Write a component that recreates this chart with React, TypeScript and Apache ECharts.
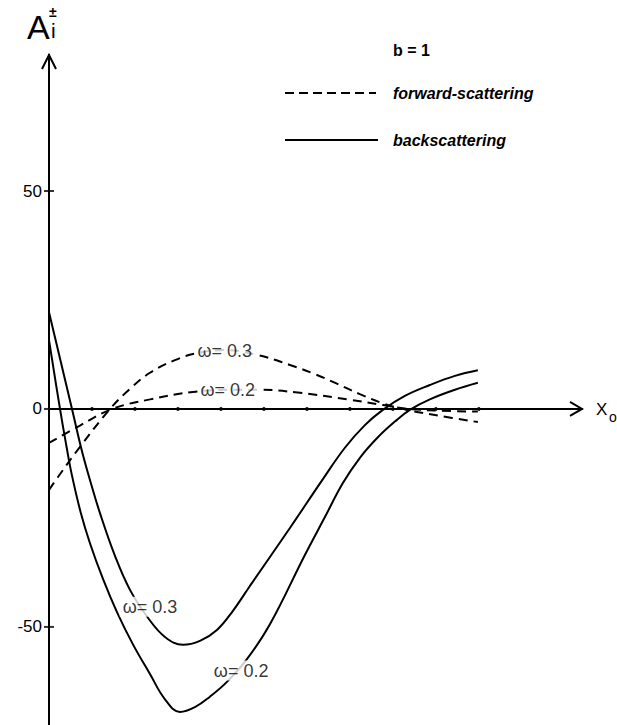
import React, { useEffect, useRef } from "react";
import * as echarts from "echarts";

// x positions of the small axis tick marks (no labels on the x axis)
const xTicks = [1, 2, 3, 4, 5, 6, 7, 8, 9, 10];
const yTicks = [-50, 0, 50];

// forward-scattering (dashed)
const fwd03X = [0, 0.209, 0.721, 1.419, 1.884, 2.349, 2.93, 3.442, 4.093, 4.837, 5.605, 6.186, 6.698, 7.233, 7.767, 8.279, 9.093, 9.977];
const fwd03Y = [-18.6, -15.6, -8.7, 0, 4.6, 8.3, 11.2, 12.8, 13.5, 12.4, 10.1, 8.0, 5.8, 3.4, 1.3, -0.1, -1.6, -3.0];
const fwd02X = [0, 0.72, 1.47, 2.35, 3.35, 4.2, 4.9, 5.84, 7.0, 7.77, 8.28, 9.1, 9.977];
const fwd02Y = [-7.8, -3.8, 0, 2.2, 3.9, 4.4, 4.4, 3.7, 2.1, 0.9, 0.1, -0.4, -0.6];

// backscattering (solid)
const back03X = [0, 0.267, 0.535, 0.76, 0.953, 1.186, 1.535, 1.884, 2.302, 2.698, 3.116, 3.512, 3.907, 4.279, 4.674, 5.605, 6.372, 6.884, 7.349, 7.767, 8.279, 8.86, 9.442, 9.977];
const back03Y = [22.2, 11.1, 0, -9.4, -16.3, -23.9, -33.7, -41.5, -47.9, -52.3, -54.1, -53.2, -50.7, -46.3, -40.6, -27.3, -16.1, -8.9, -3.7, -0.2, 3.0, 5.5, 7.6, 8.9];
const back02X = [0, 0.256, 0.412, 0.535, 0.744, 0.953, 1.256, 1.581, 1.953, 2.349, 2.698, 3.047, 3.395, 3.744, 4.14, 4.605, 5.14, 5.953, 6.419, 6.837, 7.233, 7.651, 8.047, 8.395, 8.86, 9.442, 9.977];
const back02Y = [15.8, 0, -8.9, -15.3, -24.0, -30.8, -39.0, -46.6, -54.0, -60.8, -66.6, -69.5, -68.4, -66.0, -62.6, -57.4, -49.4, -33.5, -24.8, -17.0, -11.2, -6.5, -2.9, -0.2, 2.2, 4.4, 6.0];

// curve labels, anchored in data coordinates
const curveLabels = [
  { name: "ω= 0.3", value: [4.09, 13.3] },
  { name: "ω= 0.2", value: [4.16, 4.4] },
  { name: "ω= 0.3", value: [2.35, -45.4] },
  { name: "ω= 0.2", value: [4.47, -60] },
];

const X_MAX = 12.4;
const Y_MIN = -72.5;
const Y_MAX = 81.2;

const INK = "#000";
const FONT = "'Liberation Sans', Arial, sans-serif";

const zip = (xs: number[], ys: number[]) => xs.map((x, i) => [x, ys[i]]);

export default function App() {
  const ref = useRef<HTMLDivElement>(null);

  useEffect(() => {
    if (!ref.current) return;
    const chart = echarts.init(ref.current, null, { renderer: "svg" });
    const solid = { color: INK, width: 2 };
    const dashed = { color: INK, width: 2, type: [9, 6] as any };
    const curve = (xs: number[], ys: number[], style: any) => ({
      type: "line",
      data: zip(xs, ys),
      smooth: 0.4,
      symbol: "none",
      lineStyle: style,
      z: 2,
    });

    chart.setOption({
      animation: false,
      grid: { left: 49, right: 35, top: 55, bottom: 0, containLabel: false },
      xAxis: {
        type: "value",
        min: 0,
        max: X_MAX,
        axisLine: { show: true, onZero: true, lineStyle: { color: INK, width: 2 } },
        axisTick: { show: false },
        axisLabel: { show: false },
        splitLine: { show: false },
      },
      yAxis: {
        type: "value",
        min: Y_MIN,
        max: Y_MAX,
        axisLine: { show: true, onZero: false, lineStyle: { color: INK, width: 2 } },
        axisTick: { show: false },
        axisLabel: {
          show: true,
          customValues: yTicks,
          margin: 7,
          color: INK,
          fontSize: 17,
          fontFamily: FONT,
        },
        splitLine: { show: false },
      },
      series: [
        curve(fwd03X, fwd03Y, dashed),
        curve(fwd02X, fwd02Y, dashed),
        curve(back03X, back03Y, solid),
        curve(back02X, back02Y, solid),
        {
          type: "scatter",
          data: xTicks.map((x) => [x, 0]),
          symbol: "rect",
          symbolSize: [2.5, 4],
          itemStyle: { color: INK },
          z: 3,
        },
        {
          type: "scatter",
          data: yTicks.map((y) => [0, y]),
          symbol: "rect",
          symbolSize: [10, 2],
          itemStyle: { color: INK },
          z: 3,
        },
        {
          type: "scatter",
          data: curveLabels,
          symbolSize: 1,
          itemStyle: { color: "rgba(0,0,0,0)" },
          z: 5,
          label: {
            show: true,
            position: "inside",
            formatter: "{b}",
            color: INK,
            fontSize: 18,
            fontFamily: FONT,
            backgroundColor: "#fff",
            padding: [1, 3],
          },
        },
      ],
    });

    const xEnd = chart.convertToPixel({ gridIndex: 0 }, [X_MAX, 0]) as number[];
    const yEnd = chart.convertToPixel({ gridIndex: 0 }, [0, Y_MAX]) as number[];
    const arrowStyle = { stroke: INK, lineWidth: 2, fill: "none" };

    chart.setOption({
      graphic: [
        {
          type: "polyline",
          shape: { points: [[xEnd[0] - 12, xEnd[1] - 7], [xEnd[0], xEnd[1]], [xEnd[0] - 12, xEnd[1] + 7]] },
          style: arrowStyle,
          z: 10,
        },
        {
          type: "polyline",
          shape: { points: [[yEnd[0] - 7, yEnd[1] + 14], [yEnd[0], yEnd[1]], [yEnd[0] + 7, yEnd[1] + 14]] },
          style: arrowStyle,
          z: 10,
        },
        // y axis title A_i with ± superscript
        { type: "text", x: 27, y: 10, style: { text: "A", fontSize: 34, fontFamily: FONT, fill: INK } },
        { type: "text", x: 51, y: 20, style: { text: "i", fontSize: 21, fontFamily: FONT, fill: INK } },
        { type: "text", x: 49, y: 5, style: { text: "±", fontSize: 14, fontFamily: FONT, fill: INK, fontWeight: "bold" } },
        // x axis title X_o
        { type: "text", x: 596, y: xEnd[1] - 8, style: { text: "X", fontSize: 17, fontFamily: FONT, fill: INK } },
        { type: "text", x: 609, y: xEnd[1] + 1, style: { text: "o", fontSize: 14, fontFamily: FONT, fill: INK } },
        // legend
        { type: "text", x: 393, y: 50, style: { text: "b = 1", fontSize: 16, fontWeight: "bold", fontFamily: FONT, fill: INK, verticalAlign: "middle" } },
        { type: "line", shape: { x1: 285, y1: 93, x2: 376, y2: 93 }, style: { stroke: INK, lineWidth: 2, lineDash: [9, 5] } },
        {
          type: "text",
          x: 393,
          y: 93,
          style: { text: "forward-scattering", fontSize: 16, fontWeight: "bold", fontStyle: "italic", fontFamily: FONT, fill: INK, verticalAlign: "middle" },
        },
        { type: "line", shape: { x1: 285, y1: 140, x2: 378, y2: 140 }, style: { stroke: INK, lineWidth: 2 } },
        {
          type: "text",
          x: 393,
          y: 140,
          style: { text: "backscattering", fontSize: 16, fontWeight: "bold", fontStyle: "italic", fontFamily: FONT, fill: INK, verticalAlign: "middle" },
        },
      ],
    });

    return () => chart.dispose();
  }, []);

  return (
    <div
      ref={ref}
      style={{ position: "absolute", left: 0, top: 0, width: 617, height: 725, background: "#fff" }}
    />
  );
}
